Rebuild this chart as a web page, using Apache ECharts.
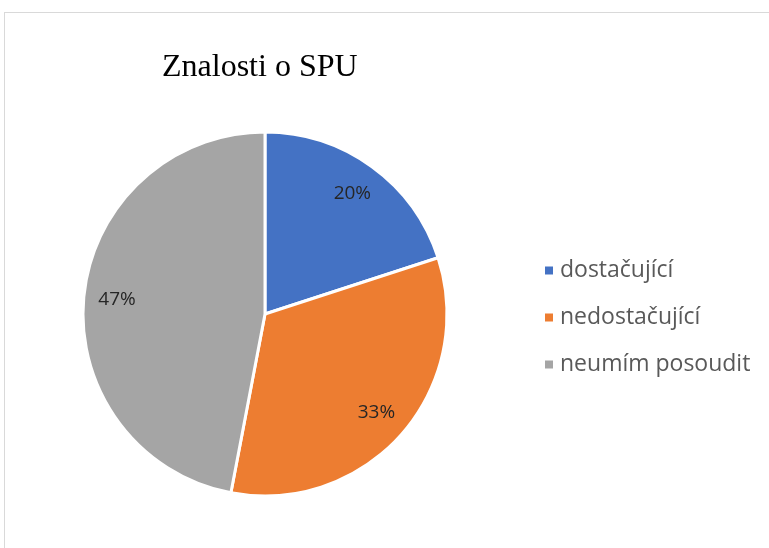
<!DOCTYPE html>
<html>
<head>
<meta charset="utf-8">
<script src="https://cdn.jsdelivr.net/npm/echarts@6/dist/echarts.min.js"></script>
<style>
  html, body { margin: 0; padding: 0; background: #fff; }
  #frame { position: absolute; left: 4px; top: 12px; width: 800px; height: 600px; border: 1px solid #d9d9d9; box-sizing: border-box; }
  #chart { position: absolute; left: 0; top: 0; width: 769px; height: 548px; }
</style>
</head>
<body>
<div id="frame"></div>
<div id="chart"></div>
<script>
  // data
  const categories = ['dostačující', 'nedostačující', 'neumím posoudit'];
  const shares = [20, 33, 47];
  const colors = ['#4472C4', '#ED7D31', '#A5A5A5'];

  const pieData = categories.map((name, i) => ({ name: name, value: shares[i] }));
  const center = [265, 314];
  const radius = 182;

  const chart = echarts.init(document.getElementById('chart'));
  chart.setOption({
    animation: false,
    color: colors,
    title: {
      text: 'Znalosti o SPU',
      left: 157,
      top: 47,
      textStyle: { fontFamily: 'Liberation Serif', fontWeight: 'normal', fontSize: 32, color: '#000' }
    },
    legend: {
      orient: 'vertical',
      left: 538,
      top: 254,
      itemWidth: 10,
      itemHeight: 10,
      itemGap: 24,
      icon: 'rect',
      data: categories,
      textStyle: { fontFamily: 'Open Sans', fontSize: 23, color: '#595959', padding: [0, 0, 0, 1] }
    },
    series: [
      {
        type: 'pie',
        center: center,
        radius: [0, radius],
        startAngle: 90,
        clockwise: true,
        data: pieData,
        label: { show: false },
        labelLine: { show: false },
        itemStyle: { borderColor: '#fff', borderWidth: 3 }
      },
      {
        // overlay ring only used to place the percent labels at ~0.8 r
        type: 'pie',
        center: center,
        radius: [radius * 0.6, radius],
        startAngle: 90,
        clockwise: true,
        silent: true,
        legendHoverLink: false,
        data: pieData,
        itemStyle: { color: 'transparent', borderWidth: 0 },
        label: {
          show: true,
          position: 'inside',
          formatter: '{c}%',
          fontFamily: 'Open Sans',
          fontSize: 19,
          color: '#262626'
        },
        labelLine: { show: false }
      }
    ]
  });
</script>
</body>
</html>
